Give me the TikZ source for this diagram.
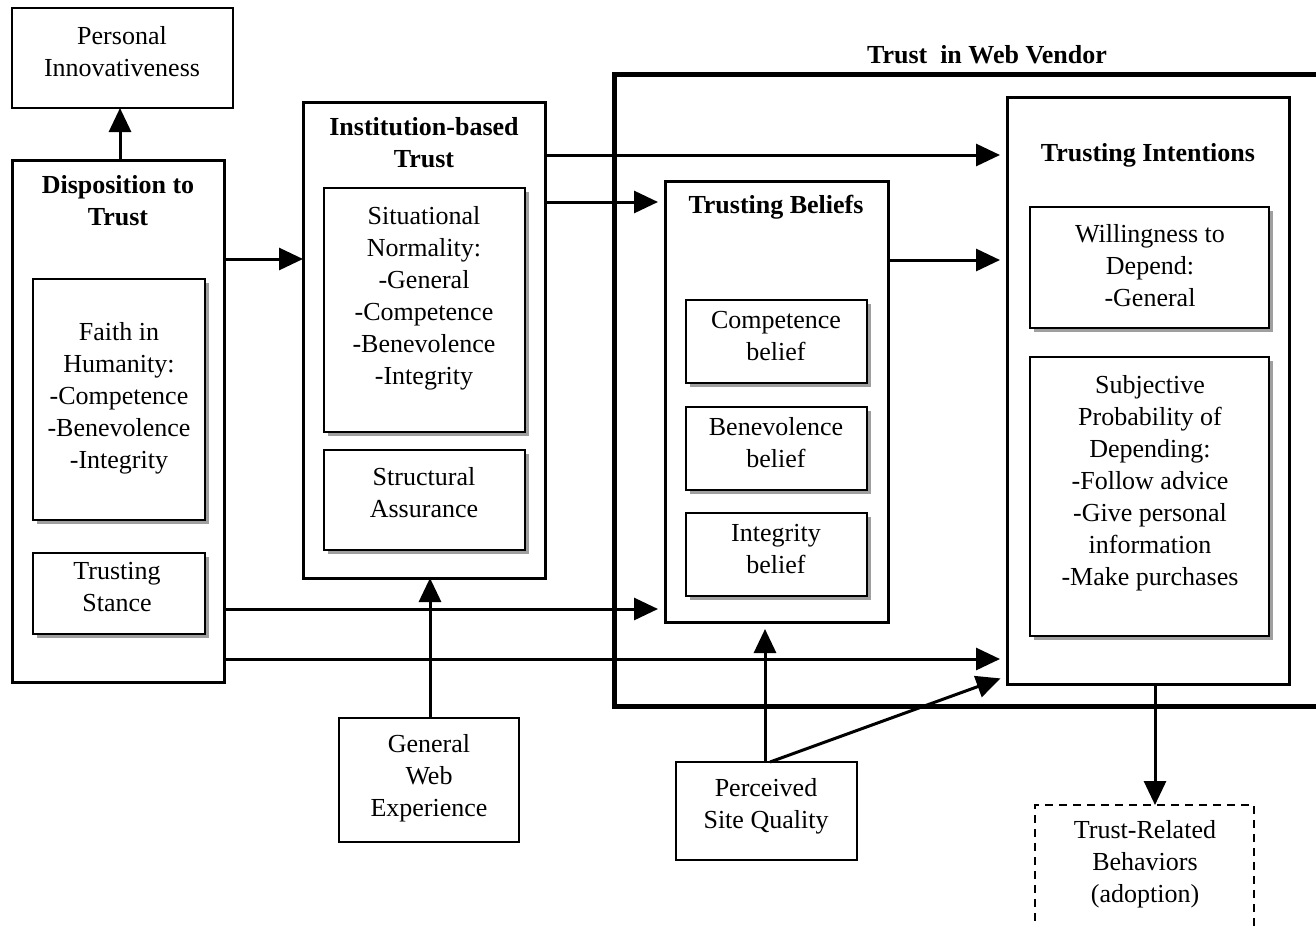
\documentclass[tikz,border=0pt]{standalone}
\usepackage{fontspec}
\setmainfont{Liberation Serif}
\usetikzlibrary{arrows.meta,shadows}
\begin{document}
\begin{tikzpicture}[x=0.5pt,y=-0.5pt,
  txt/.style={font=\fontsize{13pt}{16pt}\selectfont, align=center, inner sep=0pt},
  btxt/.style={font=\fontsize{13pt}{16pt}\selectfont\bfseries, align=center, inner sep=0pt},
  bx/.style={draw, inner sep=0pt, outer sep=0pt, anchor=north west, fill=white},
  thinbox/.style={bx, line width=0.6pt},
  pibox/.style={bx, line width=0.8pt},
  cont/.style={bx, line width=1.5pt},
  bigbox/.style={bx, line width=2.5pt, fill=none},
  sbox/.style={bx, line width=0.9pt, drop shadow={shadow xshift=2.2pt, shadow yshift=-2.2pt, fill=black!75}},
  dbox/.style={bx, line width=0.8pt, dash pattern=on 4pt off 3pt},
  arr/.style={line width=1.5pt, -{Triangle[length=12pt,width=11pt]}},
  sarr/.style={arr, shorten >=3.5pt}
]
\clip (0,0) rectangle (1316,926);
\fill[white] (0,0) rectangle (1316,926);

% Trust in Web Vendor container
\node[bigbox, minimum width=358pt, minimum height=316pt] (twv) at (614,74) {};
\node[btxt] (twvt) at (987,55) {Trust\ \ in Web Vendor};

% Personal Innovativeness
\node[pibox, minimum width=110.5pt, minimum height=50pt] (pi) at (12,8) {};
\node[txt] (pit) at (122,52) {Personal\\Innovativeness};

% Disposition to Trust
\node[cont, minimum width=106pt, minimum height=261pt] (disp) at (12,160) {};
\node[btxt] (dispt) at (118,201) {Disposition to\\Trust};
\node[sbox, minimum width=86pt, minimum height=120.5pt] (faith) at (33,279) {};
\node[txt] (faitht) at (119,398) {Faith in\\Humanity:\\-Competence\\-Benevolence\\-Integrity};
\node[sbox, minimum width=86pt, minimum height=40.5pt] (ts) at (33,553) {};
\node[txt] (tst) at (117,587) {Trusting\\Stance};

% Institution-based Trust
\node[cont, minimum width=121pt, minimum height=238pt] (inst) at (303,102) {};
\node[btxt] (instt) at (424,143) {Institution-based\\Trust};
\node[sbox, minimum width=100.5pt, minimum height=122pt] (sit) at (324,188) {};
\node[txt] (sitt) at (424,298) {Situational\\Normality:\\-General\\-Competence\\-Benevolence\\-Integrity};
\node[sbox, minimum width=100.5pt, minimum height=50pt] (sa) at (324,450) {};
\node[txt] (sat) at (424,493) {Structural\\Assurance};

% Trusting Beliefs
\node[cont, minimum width=111.5pt, minimum height=220.5pt] (tb) at (665,181) {};
\node[btxt] (tbt) at (776,207) {Trusting Beliefs};
\node[sbox, minimum width=90.5pt, minimum height=41.5pt] (comp) at (686,300) {};
\node[txt] (compt) at (776,336) {Competence\\belief};
\node[sbox, minimum width=90.5pt, minimum height=41.5pt] (ben) at (686,407) {};
\node[txt] (bent) at (776,443) {Benevolence\\belief};
\node[sbox, minimum width=90.5pt, minimum height=41.5pt] (integ) at (686,513) {};
\node[txt] (integt) at (776,549) {Integrity\\belief};

% Trusting Intentions
\node[cont, minimum width=141pt, minimum height=293.5pt] (ti) at (1007,97) {};
\node[btxt] (tit) at (1148,155) {Trusting Intentions};
\node[sbox, minimum width=119.5pt, minimum height=60.5pt] (wtd) at (1030,207) {};
\node[txt] (wtdt) at (1150,266) {Willingness to\\Depend:\\-General};
\node[sbox, minimum width=119.5pt, minimum height=139.5pt] (sp) at (1030,357) {};
\node[txt] (spt) at (1150,483) {Subjective\\Probability of\\Depending:\\-Follow advice\\-Give personal\\information\\-Make purchases};

% Trust-Related Behaviors
\node[dbox, minimum width=109.5pt, minimum height=70pt] (trb) at (1035,805) {};
\node[txt] (trbt) at (1145,864) {Trust-Related\\Behaviors\\(adoption)};

% General Web Experience
\node[thinbox, minimum width=90pt, minimum height=62pt] (gwe) at (339,718) {};
\node[txt] (gwet) at (429,778) {General\\Web\\Experience};

% Perceived Site Quality
\node[thinbox, minimum width=90.5pt, minimum height=49pt] (psq) at (676,762) {};
\node[txt] (psqt) at (766,806) {Perceived\\Site Quality};

% Connectors
\draw[arr] (disp.north -| 120,0) -- (pi.south -| 120,0);
\draw[arr] (disp.east |- 0,259) -- (inst.west |- 0,259);
\draw[sarr] (inst.east |- 0,155) -- (ti.west |- 0,155);
\draw[sarr] (inst.east |- 0,202) -- (tb.west |- 0,202);
\draw[sarr] (tb.east |- 0,260) -- (ti.west |- 0,260);
\draw[sarr] (disp.east |- 0,609) -- (tb.west |- 0,609);
\draw[sarr] (disp.east |- 0,659) -- (ti.west |- 0,659);
\draw[arr] (gwe.north -| 430,0) -- (inst.south -| 430,0);
\draw[sarr] (psq.north -| 765,0) -- (tb.south -| 765,0);
\draw[arr, shorten >=3.5pt] (psq.north -| 770,0) -- ([yshift=4pt]ti.south west);
\draw[arr] (ti.south -| 1155,0) -- (trb.north -| 1155,0);
\end{tikzpicture}
\end{document}
